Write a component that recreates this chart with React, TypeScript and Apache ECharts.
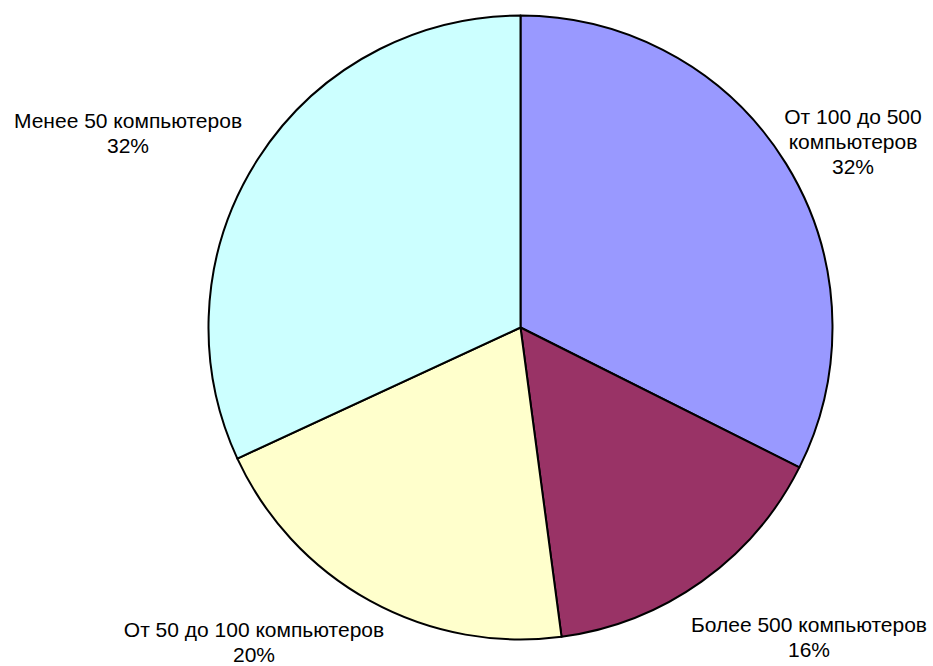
import React, { useEffect, useRef } from "react";
import * as echarts from "echarts";

const categories = [
  "От 100 до 500\nкомпьютеров",
  "Более 500 компьютеров",
  "От 50 до 100 компьютеров",
  "Менее 50 компьютеров",
];
const values = [32.4, 15.5, 20.2, 31.9];
const colors = ["#9999FF", "#993366", "#FFFFCC", "#CCFFFF"];
const labelCenters: [number, number][] = [
  [853, 141],
  [809, 637],
  [254, 642],
  [128, 133],
];

export default function App() {
  const ref = useRef<HTMLDivElement>(null);
  useEffect(() => {
    if (!ref.current) return;
    const chart = echarts.init(ref.current, undefined, { renderer: "svg" });
    chart.setOption({
      animation: false,
      backgroundColor: "#ffffff",
      series: [
        {
          type: "pie",
          center: [520.5, 327.5],
          radius: 312,
          startAngle: 90,
          clockwise: true,
          avoidLabelOverlap: false,
          percentPrecision: 0,
          itemStyle: { borderColor: "#000000", borderWidth: 2 },
          label: {
            show: true,
            position: "outside",
            formatter: "{b}\n{d}%",
            color: "#000000",
            fontFamily: "'Liberation Sans', Arial, sans-serif",
            fontSize: 21,
            lineHeight: 25,
            align: "center",
          },
          labelLine: { show: false },
          labelLayout: (params: any) => {
            const p = labelCenters[params.dataIndex];
            return { x: p[0], y: p[1], align: "center", verticalAlign: "middle" };
          },
          emphasis: { disabled: true },
          data: categories.map((name, i) => ({
            name,
            value: values[i],
            itemStyle: { color: colors[i] },
          })),
        },
      ],
    });
    return () => chart.dispose();
  }, []);
  return (
    <div
      ref={ref}
      style={{ position: "fixed", left: 0, top: 0, width: 933, height: 666 }}
    />
  );
}
